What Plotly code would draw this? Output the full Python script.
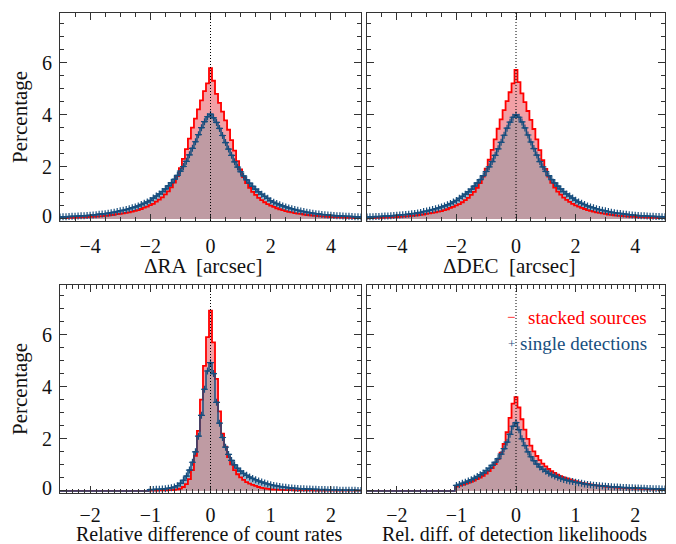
import numpy as np
import plotly.graph_objects as go

# ---------------- data (percentages per bin) ----------------
# top panels: bin centres -5.1 ... 5.1, step 0.1
top_centers = np.round(np.arange(-51, 52) * 0.1, 3)

ra_stacked = [
    0.02, 0.03, 0.03, 0.03, 0.04, 0.04, 0.05, 0.05, 0.06, 0.06, 0.07,
    0.08, 0.08, 0.09, 0.10, 0.11, 0.12, 0.13, 0.15, 0.16, 0.18,
    0.19, 0.21, 0.23, 0.25, 0.28, 0.31, 0.34, 0.38, 0.43, 0.47,
    0.53, 0.58, 0.66, 0.74, 0.83, 0.94, 1.06, 1.21, 1.39, 1.64,
    1.95, 2.30, 2.68, 3.08, 3.50, 3.85, 4.20, 4.55, 4.90, 5.20,
    5.78,
    5.30, 4.80, 4.45, 4.12, 3.78, 3.42, 3.02, 2.62, 2.22, 1.90,
    1.60, 1.37, 1.19, 1.04, 0.92, 0.81, 0.72, 0.64, 0.57, 0.51,
    0.46, 0.41, 0.37, 0.34, 0.30, 0.27, 0.25, 0.22, 0.20, 0.19,
    0.17, 0.15, 0.14, 0.13, 0.12, 0.11, 0.10, 0.09, 0.08, 0.07,
    0.07, 0.06, 0.06, 0.05, 0.05, 0.04, 0.04, 0.03, 0.03, 0.03, 0.02,
]
ra_single = [
    0.07, 0.07, 0.08, 0.08, 0.09, 0.10, 0.10, 0.11, 0.12, 0.12, 0.13,
    0.14, 0.15, 0.16, 0.18, 0.19, 0.20, 0.22, 0.24, 0.26, 0.28,
    0.31, 0.33, 0.36, 0.39, 0.43, 0.46, 0.50, 0.55, 0.60, 0.65,
    0.71, 0.80, 0.88, 0.96, 1.05, 1.15, 1.27, 1.39, 1.52, 1.67,
    1.83, 2.01, 2.21, 2.46, 2.71, 2.96, 3.23, 3.50, 3.73, 3.92,
    4.02,
    3.88, 3.70, 3.47, 3.20, 2.93, 2.68, 2.44, 2.19, 1.99, 1.81,
    1.65, 1.50, 1.37, 1.25, 1.14, 1.04, 0.95, 0.87, 0.79, 0.70,
    0.64, 0.59, 0.54, 0.50, 0.46, 0.42, 0.39, 0.36, 0.33, 0.30,
    0.28, 0.26, 0.24, 0.22, 0.20, 0.19, 0.17, 0.16, 0.15, 0.14,
    0.13, 0.12, 0.12, 0.11, 0.10, 0.10, 0.09, 0.08, 0.08, 0.07, 0.07,
]
dec_stacked = [
    0.02, 0.02, 0.03, 0.03, 0.04, 0.04, 0.04, 0.05, 0.05, 0.06, 0.07,
    0.07, 0.08, 0.09, 0.10, 0.11, 0.12, 0.13, 0.14, 0.16, 0.17,
    0.19, 0.21, 0.23, 0.25, 0.28, 0.30, 0.34, 0.37, 0.42, 0.46,
    0.52, 0.57, 0.64, 0.72, 0.81, 0.92, 1.04, 1.19, 1.37, 1.62,
    1.93, 2.27, 2.65, 3.05, 3.46, 3.82, 4.17, 4.52, 4.86, 5.20,
    5.72,
    5.25, 4.82, 4.48, 4.14, 3.80, 3.45, 3.05, 2.64, 2.25, 1.92,
    1.62, 1.38, 1.20, 1.05, 0.93, 0.82, 0.73, 0.65, 0.58, 0.52,
    0.47, 0.42, 0.38, 0.34, 0.31, 0.28, 0.25, 0.23, 0.21, 0.19,
    0.17, 0.16, 0.14, 0.13, 0.12, 0.11, 0.10, 0.09, 0.08, 0.08,
    0.07, 0.06, 0.06, 0.05, 0.05, 0.04, 0.04, 0.03, 0.03, 0.03, 0.02,
]
dec_single = [
    0.07, 0.07, 0.08, 0.08, 0.09, 0.09, 0.10, 0.11, 0.11, 0.12, 0.13,
    0.14, 0.15, 0.16, 0.17, 0.18, 0.20, 0.21, 0.23, 0.25, 0.28,
    0.30, 0.33, 0.36, 0.39, 0.42, 0.46, 0.50, 0.54, 0.59, 0.65,
    0.71, 0.79, 0.87, 0.95, 1.04, 1.14, 1.26, 1.38, 1.51, 1.66,
    1.82, 2.00, 2.20, 2.44, 2.69, 2.94, 3.21, 3.48, 3.71, 3.90,
    3.99,
    3.90, 3.72, 3.49, 3.22, 2.95, 2.70, 2.45, 2.20, 2.00, 1.82,
    1.66, 1.51, 1.38, 1.26, 1.15, 1.05, 0.96, 0.88, 0.80, 0.72,
    0.65, 0.60, 0.55, 0.50, 0.46, 0.43, 0.39, 0.36, 0.33, 0.31,
    0.28, 0.26, 0.24, 0.22, 0.21, 0.19, 0.18, 0.16, 0.15, 0.14,
    0.13, 0.12, 0.12, 0.11, 0.10, 0.10, 0.09, 0.09, 0.08, 0.08, 0.07,
]

# bottom panels: bin centres -2.55 ... 2.55, step 0.05
bot_centers = np.round(np.arange(-51, 52) * 0.05, 3)
below_minus_one = [0.0] * 31   # bins -2.55 ... -1.05 are empty

rate_stacked = below_minus_one + [
    0.01, 0.01, 0.01, 0.02, 0.02, 0.02, 0.03, 0.03, 0.04, 0.06,
    0.09, 0.15, 0.26, 0.45, 0.80, 1.35, 2.30, 3.50, 4.80, 5.90,
    6.92,
    5.70, 4.30, 3.05, 2.20, 1.70, 1.30, 1.02, 0.80, 0.64, 0.52,
    0.42, 0.34, 0.28, 0.23, 0.19, 0.15, 0.12, 0.10, 0.08, 0.06,
    0.05, 0.05, 0.04, 0.04, 0.03, 0.03, 0.03, 0.02, 0.02, 0.02,
    0.02, 0.02, 0.02, 0.02, 0.01, 0.01, 0.01, 0.01, 0.01, 0.01,
    0.01, 0.01, 0.01, 0.01, 0.01, 0.01, 0.01, 0.01, 0.01, 0.01, 0.01,
]
rate_single = below_minus_one + [
    0.05, 0.05, 0.06, 0.06, 0.07, 0.08, 0.10, 0.12, 0.15, 0.20,
    0.29, 0.41, 0.57, 0.80, 1.10, 1.50, 2.10, 2.90, 3.90, 4.60,
    4.92,
    4.50, 3.40, 2.60, 2.05, 1.68, 1.40, 1.17, 1.00, 0.87, 0.76,
    0.67, 0.60, 0.53, 0.48, 0.43, 0.38, 0.34, 0.30, 0.27, 0.24,
    0.21, 0.19, 0.17, 0.15, 0.14, 0.12, 0.11, 0.10, 0.09, 0.08,
    0.08, 0.07, 0.07, 0.06, 0.06, 0.05, 0.05, 0.05, 0.04, 0.04,
    0.04, 0.04, 0.03, 0.03, 0.03, 0.03, 0.03, 0.03, 0.02, 0.02, 0.02,
]
lik_stacked = below_minus_one + [
    0.17, 0.20, 0.23, 0.27, 0.31, 0.35, 0.40, 0.45, 0.51, 0.58,
    0.66, 0.76, 0.88, 1.03, 1.22, 1.47, 1.80, 2.25, 2.80, 3.35,
    3.60,
    3.20, 2.75, 2.35, 2.00, 1.74, 1.52, 1.34, 1.18, 1.05, 0.94,
    0.84, 0.76, 0.69, 0.62, 0.57, 0.52, 0.48, 0.44, 0.40, 0.37,
    0.34, 0.31, 0.29, 0.27, 0.25, 0.23, 0.21, 0.20, 0.19, 0.17,
    0.16, 0.15, 0.14, 0.13, 0.12, 0.12, 0.11, 0.10, 0.10, 0.09,
    0.09, 0.08, 0.08, 0.07, 0.07, 0.06, 0.06, 0.06, 0.05, 0.05, 0.05,
]
lik_single = below_minus_one + [
    0.21, 0.25, 0.29, 0.33, 0.38, 0.43, 0.49, 0.55, 0.62, 0.69,
    0.78, 0.87, 0.98, 1.10, 1.24, 1.41, 1.62, 1.87, 2.17, 2.48,
    2.62,
    2.35, 2.00, 1.74, 1.50, 1.31, 1.16, 1.03, 0.92, 0.83, 0.75,
    0.68, 0.62, 0.57, 0.52, 0.48, 0.44, 0.41, 0.38, 0.36, 0.33,
    0.31, 0.29, 0.27, 0.25, 0.24, 0.22, 0.21, 0.20, 0.19, 0.18,
    0.17, 0.16, 0.15, 0.15, 0.14, 0.13, 0.13, 0.12, 0.12, 0.11,
    0.11, 0.10, 0.10, 0.09, 0.09, 0.08, 0.08, 0.08, 0.07, 0.07, 0.07,
]

x_titles = ["\u0394RA \u00a0[arcsec]", "\u0394DEC \u00a0[arcsec]",
            "Relative difference of count rates", "Rel. diff. of detection likelihoods"]
y_title = "Percentage"
y_tick_values = [0, 2, 4, 6]
legend_labels = ["stacked sources", "single detections"]

panels = [
    (top_centers, ra_stacked, ra_single),
    (top_centers, dec_stacked, dec_single),
    (bot_centers, rate_stacked, rate_single),
    (bot_centers, lik_stacked, lik_single),
]

# ---------------- styling ----------------
RED = "#FF0000"
BLUE = "#174E7E"
PINK = "#F2A0A6"
LBLUE = "#98B6CB"
MAUVE = "#BF9BA3"
FONT = "Liberation Serif"

W, H = 676, 544
ML, MR, MT, MB = 60, 11, 13, 51
PW, PH = W - ML - MR, H - MT - MB


def px_x(p):
    return (p - ML) / PW


def px_y(p):
    return (H - MB - p) / PH


x_domains = [(0.0, px_x(361)), (px_x(367), 1.0)]
y_domains = [(px_y(221), 1.0), (0.0, px_y(285))]

fig = go.Figure()

for k, (xc, red, blue) in enumerate(panels):
    n = k + 1
    xa = "x" if n == 1 else f"x{n}"
    ya = "y" if n == 1 else f"y{n}"
    red = np.array(red, dtype=float)
    blue = np.array(blue, dtype=float)
    assert len(red) == len(xc) and len(blue) == len(xc)
    both = np.minimum(red, blue)
    common = dict(x=xc, xaxis=xa, yaxis=ya, showlegend=False, hoverinfo="skip")
    fig.add_trace(go.Scatter(y=blue, mode="lines", line=dict(shape="hvh", width=0, color=LBLUE),
                             fill="tozeroy", fillcolor=LBLUE, **common))
    fig.add_trace(go.Scatter(y=red, mode="lines", line=dict(shape="hvh", width=0, color=PINK),
                             fill="tozeroy", fillcolor=PINK, **common))
    fig.add_trace(go.Scatter(y=both, mode="lines", line=dict(shape="hvh", width=0, color=MAUVE),
                             fill="tozeroy", fillcolor=MAUVE, **common))
    fig.add_trace(go.Scatter(y=red, mode="lines", line=dict(shape="hvh", width=1.8, color=RED), **common))
    fig.add_trace(go.Scatter(y=blue, mode="lines", line=dict(shape="hvh", width=1.5, color=BLUE), **common))
    bm = np.where(blue > 0, blue, np.nan)
    fig.add_trace(go.Scatter(y=bm, mode="markers",
                             marker=dict(symbol="cross-thin", size=5, color=BLUE,
                                         line=dict(width=1.2, color=BLUE)), **common))
    fig.add_shape(type="line", xref=xa, yref=f"{ya} domain", x0=0, x1=0, y0=0, y1=1,
                  line=dict(color="black", width=1, dash="1px,2px"), layer="above")

axis_common = dict(showline=True, linecolor="#333", linewidth=1.4, mirror="allticks",
                   ticks="inside", ticklen=7, tickwidth=1.2, tickcolor="#333",
                   showgrid=False, zeroline=False,
                   tickfont=dict(family=FONT, size=20, color="#111"))

for k in range(4):
    n = k + 1
    col = k % 2
    row = k // 2
    xkey = "xaxis" if n == 1 else f"xaxis{n}"
    ykey = "yaxis" if n == 1 else f"yaxis{n}"
    ya = "y" if n == 1 else f"y{n}"
    xa = "x" if n == 1 else f"x{n}"
    if row == 0:
        xr, dt, mdt, so = [-5.0, 5.0], 2, 0.5, 7
    else:
        xr, dt, mdt, so = [-2.5, 2.5], 1, 0.1, 4
    fig.layout[xkey] = dict(axis_common, domain=x_domains[col], anchor=ya, range=xr,
                            tick0=0, dtick=dt, ticklabelstandoff=so,
                            minor=dict(ticks="inside", ticklen=4, tickwidth=1, tickcolor="#333",
                                       dtick=mdt, tick0=0, showgrid=False))
    fig.layout[ykey] = dict(axis_common, domain=y_domains[row], anchor=xa,
                            range=[-0.08, 7.9], tick0=0, dtick=2,
                            showticklabels=False,
                            minor=dict(ticks="inside", ticklen=4, tickwidth=1, tickcolor="#333",
                                       dtick=0.5, tick0=0, showgrid=False))

ann = []
title_pos = [(203, 266, 21), (509, 266, 21), (209, 534, 20), (514, 534, 20)]
for t, (px, py, fs) in zip(x_titles, title_pos):
    ann.append(dict(text=t, x=px_x(px), y=px_y(py), xref="paper", yref="paper",
                    xanchor="center", yanchor="middle", showarrow=False,
                    font=dict(family=FONT, size=fs, color="#111")))
for py in (117, 389):
    ann.append(dict(text=y_title, x=px_x(20), y=px_y(py), xref="paper", yref="paper",
                    xanchor="center", yanchor="middle", textangle=-90, showarrow=False,
                    font=dict(family=FONT, size=21, color="#111")))

# y tick labels of the two left panels
for ya in ("y", "y3"):
    for v in y_tick_values:
        ann.append(dict(text=str(v), x=px_x(54), y=v, xref="paper", yref=ya,
                        xanchor="right", yanchor="middle", showarrow=False,
                        yshift=3 if v == 0 else 0,
                        font=dict(family=FONT, size=20, color="#111")))

ann.append(dict(text="\u2212", x=px_x(511), y=px_y(317), xref="paper", yref="paper",
                xanchor="center", yanchor="middle", showarrow=False,
                font=dict(family=FONT, size=15, color=RED)))
ann.append(dict(text=legend_labels[0], x=px_x(649), y=px_y(317), xref="paper", yref="paper",
                xanchor="right", yanchor="middle", showarrow=False,
                font=dict(family=FONT, size=19, color=RED)))
ann.append(dict(text="+", x=px_x(511), y=px_y(343), xref="paper", yref="paper",
                xanchor="center", yanchor="middle", showarrow=False,
                font=dict(family=FONT, size=13, color=BLUE)))
ann.append(dict(text=legend_labels[1], x=px_x(649), y=px_y(343), xref="paper", yref="paper",
                xanchor="right", yanchor="middle", showarrow=False,
                font=dict(family=FONT, size=19, color=BLUE)))

fig.update_layout(width=W, height=H, margin=dict(l=ML, r=MR, t=MT, b=MB),
                  paper_bgcolor="white", plot_bgcolor="white", annotations=ann,
                  showlegend=False)

fig.write_html("out.html", config={"displayModeBar": False},
               post_script="document.body.style.margin='0';")
